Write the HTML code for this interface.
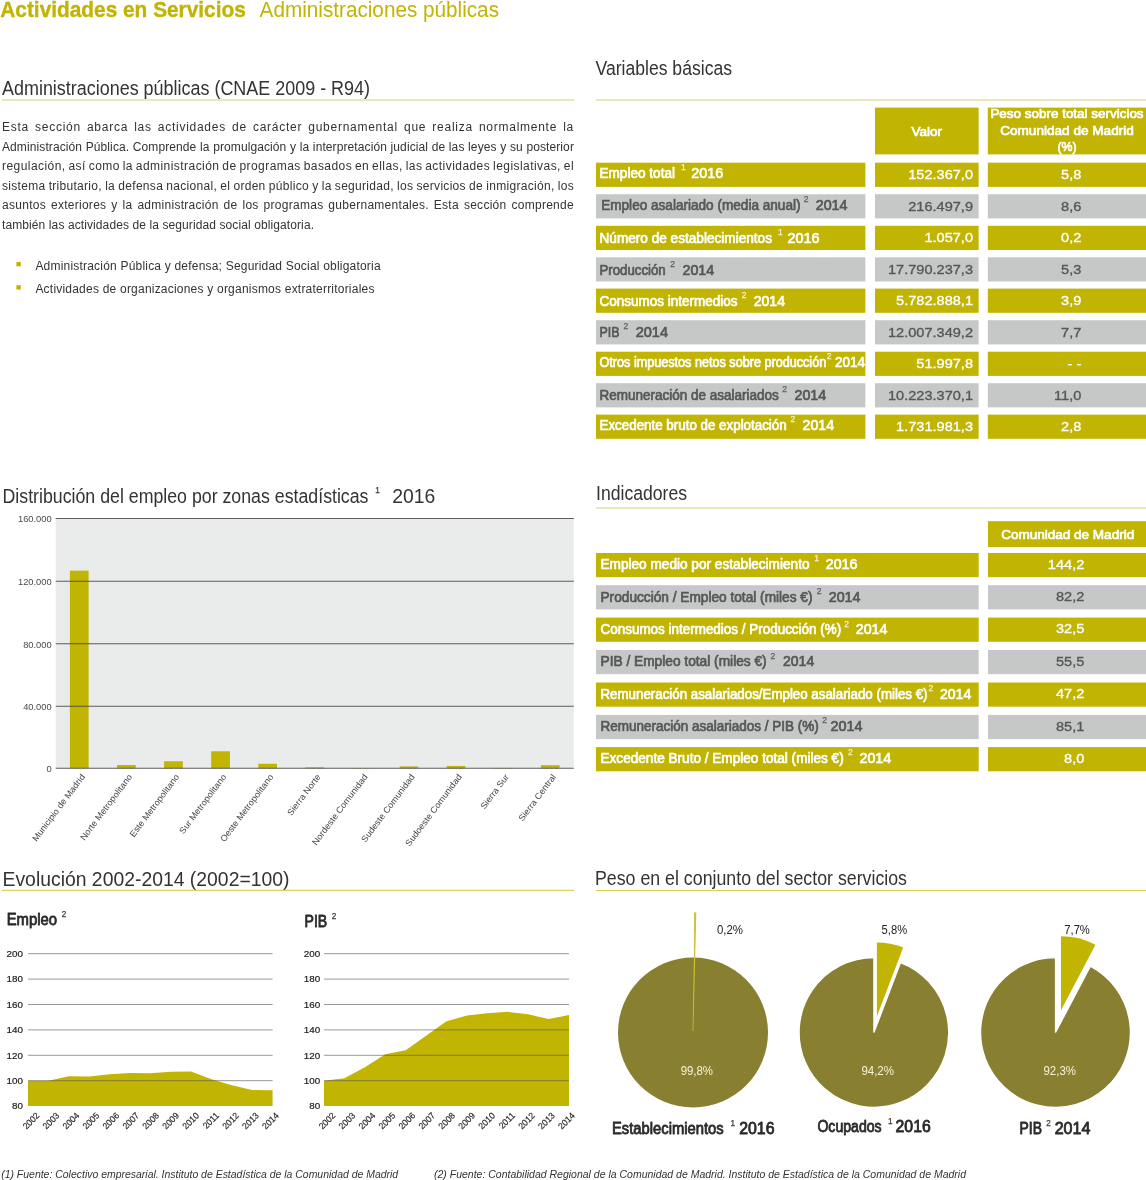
<!DOCTYPE html>
<html lang="es"><head><meta charset="utf-8"><title>Actividades en Servicios - Administraciones públicas</title>
<style>
html,body{margin:0;padding:0;background:#ffffff;}
body{width:1146px;height:1180px;overflow:hidden;}
svg{display:block;}
svg text{font-family:"Liberation Sans",sans-serif;white-space:pre;}
</style></head><body>
<svg width="1146" height="1180" viewBox="0 0 1146 1180">
<text x="0.30" y="16.70" font-size="21.90" fill="#c1b403" font-weight="bold" textLength="245.50" lengthAdjust="spacingAndGlyphs" stroke="#c1b403" stroke-width="0.35">Actividades en Servicios</text>
<text x="259.60" y="16.60" font-size="21.70" fill="#c1b403" textLength="239.40" lengthAdjust="spacingAndGlyphs">Administraciones públicas</text>
<text x="2.00" y="95.00" font-size="19.60" fill="#333333" textLength="368.00" lengthAdjust="spacingAndGlyphs">Administraciones públicas (CNAE 2009 - R94)</text>
<line x1="2.00" y1="100.00" x2="574.00" y2="100.00" stroke="#dfe0a6" stroke-width="1.60"/>
<text x="2" y="130.70" font-size="12.00" fill="#333333" style="letter-spacing:0.750px;word-spacing:1.983px" textLength="572" lengthAdjust="spacing">Esta sección abarca las actividades de carácter gubernamental que realiza normalmente la</text>
<text x="2" y="150.50" font-size="12.00" fill="#333333" style="letter-spacing:0.100px;word-spacing:0.182px" textLength="572" lengthAdjust="spacing">Administración Pública. Comprende la promulgación y la interpretación judicial de las leyes y su posterior</text>
<text x="2" y="170.20" font-size="12.00" fill="#333333" style="letter-spacing:0.450px;word-spacing:-0.903px" textLength="572" lengthAdjust="spacing">regulación, así como la administración de programas basados en ellas, las actividades legislativas, el</text>
<text x="2" y="190.00" font-size="12.00" fill="#333333" style="letter-spacing:0.300px;word-spacing:-0.406px" textLength="572" lengthAdjust="spacing">sistema tributario, la defensa nacional, el orden público y la seguridad, los servicios de inmigración, los</text>
<text x="2" y="209.30" font-size="12.00" fill="#333333" style="letter-spacing:0.280px;word-spacing:1.340px" textLength="572" lengthAdjust="spacing">asuntos exteriores y la administración de los programas gubernamentales. Esta sección comprende</text>
<text x="2.00" y="228.90" font-size="12.00" fill="#333333" textLength="312.00" lengthAdjust="spacing">también las actividades de la seguridad social obligatoria.</text>
<rect x="16.40" y="261.90" width="4.40" height="4.40" fill="#c1b403"/>
<rect x="16.40" y="285.20" width="4.40" height="4.40" fill="#c1b403"/>
<text x="35.40" y="270.20" font-size="12.00" fill="#333333" textLength="345.20" lengthAdjust="spacing">Administración Pública y defensa; Seguridad Social obligatoria</text>
<text x="35.40" y="292.70" font-size="12.00" fill="#333333" textLength="339.00" lengthAdjust="spacing">Actividades de organizaciones y organismos extraterritoriales</text>
<text x="595.50" y="74.50" font-size="19.60" fill="#333333" textLength="136.50" lengthAdjust="spacingAndGlyphs">Variables básicas</text>
<line x1="596.00" y1="100.00" x2="1146.00" y2="100.00" stroke="#dfe0a6" stroke-width="1.60"/>
<rect x="875.00" y="107.60" width="103.60" height="46.80" fill="#c1b403"/>
<rect x="987.80" y="107.60" width="160.00" height="46.80" fill="#c1b403"/>
<text x="911.45" y="136.20" font-size="13.20" fill="#fff" textLength="30.70" lengthAdjust="spacingAndGlyphs" stroke="#fff" stroke-width="0.70" stroke-linejoin="round">Valor</text>
<text x="990.40" y="118.20" font-size="13.00" fill="#fff" textLength="153.20" lengthAdjust="spacingAndGlyphs" stroke="#fff" stroke-width="0.70" stroke-linejoin="round">Peso sobre total servicios</text>
<text x="1000.15" y="135.00" font-size="13.00" fill="#fff" textLength="133.70" lengthAdjust="spacingAndGlyphs" stroke="#fff" stroke-width="0.70" stroke-linejoin="round">Comunidad de Madrid</text>
<text x="1057.40" y="150.60" font-size="13.00" fill="#fff" textLength="19.21" lengthAdjust="spacingAndGlyphs" stroke="#fff" stroke-width="0.70" stroke-linejoin="round">(%)</text>
<rect x="596.00" y="162.70" width="269.40" height="24.20" fill="#c1b403"/>
<rect x="875.00" y="162.70" width="103.60" height="24.20" fill="#c1b403"/>
<rect x="987.80" y="162.70" width="160.00" height="24.20" fill="#c1b403"/>
<text x="599.50" y="177.80" font-size="14.00" fill="#fff" textLength="75.50" lengthAdjust="spacingAndGlyphs" stroke="#fff" stroke-width="0.70" stroke-linejoin="round">Empleo total</text>
<text x="680.90" y="170.20" font-size="8.60" fill="#f4f2cf" stroke="#f4f2cf" stroke-width="0.25">1</text>
<text x="691.20" y="177.80" font-size="14.00" fill="#fff" textLength="32.00" lengthAdjust="spacingAndGlyphs" stroke="#fff" stroke-width="0.70" stroke-linejoin="round">2016</text>
<text x="908.26" y="179.10" font-size="13.60" fill="#fff" textLength="64.74" lengthAdjust="spacingAndGlyphs" stroke="#fff" stroke-width="0.35">152.367,0</text>
<text x="1061.07" y="179.10" font-size="13.60" fill="#fff" textLength="20.23" lengthAdjust="spacingAndGlyphs" stroke="#fff" stroke-width="0.35">5,8</text>
<rect x="596.00" y="194.20" width="269.40" height="24.20" fill="#c6c8c7"/>
<rect x="875.00" y="194.20" width="103.60" height="24.20" fill="#c6c8c7"/>
<rect x="987.80" y="194.20" width="160.00" height="24.20" fill="#c6c8c7"/>
<text x="601.20" y="209.90" font-size="14.00" fill="#555759" textLength="199.30" lengthAdjust="spacingAndGlyphs" stroke="#555759" stroke-width="0.70" stroke-linejoin="round">Empleo asalariado (media anual)</text>
<text x="803.70" y="202.30" font-size="8.60" fill="#5c5e60" stroke="#5c5e60" stroke-width="0.25">2</text>
<text x="815.70" y="209.90" font-size="14.00" fill="#555759" textLength="31.80" lengthAdjust="spacingAndGlyphs" stroke="#555759" stroke-width="0.70" stroke-linejoin="round">2014</text>
<text x="908.26" y="210.60" font-size="13.60" fill="#555759" textLength="64.74" lengthAdjust="spacingAndGlyphs" stroke="#555759" stroke-width="0.35">216.497,9</text>
<text x="1061.07" y="210.60" font-size="13.60" fill="#555759" textLength="20.23" lengthAdjust="spacingAndGlyphs" stroke="#555759" stroke-width="0.35">8,6</text>
<rect x="596.00" y="225.80" width="269.40" height="24.20" fill="#c1b403"/>
<rect x="875.00" y="225.80" width="103.60" height="24.20" fill="#c1b403"/>
<rect x="987.80" y="225.80" width="160.00" height="24.20" fill="#c1b403"/>
<text x="599.50" y="243.00" font-size="14.00" fill="#fff" textLength="172.50" lengthAdjust="spacingAndGlyphs" stroke="#fff" stroke-width="0.70" stroke-linejoin="round">Número de establecimientos</text>
<text x="777.90" y="235.40" font-size="8.60" fill="#f4f2cf" stroke="#f4f2cf" stroke-width="0.25">1</text>
<text x="787.50" y="243.00" font-size="14.00" fill="#fff" textLength="32.00" lengthAdjust="spacingAndGlyphs" stroke="#fff" stroke-width="0.70" stroke-linejoin="round">2016</text>
<text x="924.45" y="242.20" font-size="13.60" fill="#fff" textLength="48.55" lengthAdjust="spacingAndGlyphs" stroke="#fff" stroke-width="0.35">1.057,0</text>
<text x="1061.07" y="242.20" font-size="13.60" fill="#fff" textLength="20.23" lengthAdjust="spacingAndGlyphs" stroke="#fff" stroke-width="0.35">0,2</text>
<rect x="596.00" y="257.30" width="269.40" height="24.20" fill="#c6c8c7"/>
<rect x="875.00" y="257.30" width="103.60" height="24.20" fill="#c6c8c7"/>
<rect x="987.80" y="257.30" width="160.00" height="24.20" fill="#c6c8c7"/>
<text x="599.50" y="275.00" font-size="14.00" fill="#555759" textLength="66.20" lengthAdjust="spacingAndGlyphs" stroke="#555759" stroke-width="0.70" stroke-linejoin="round">Producción</text>
<text x="670.20" y="267.40" font-size="8.60" fill="#5c5e60" stroke="#5c5e60" stroke-width="0.25">2</text>
<text x="682.50" y="275.00" font-size="14.00" fill="#555759" textLength="31.70" lengthAdjust="spacingAndGlyphs" stroke="#555759" stroke-width="0.70" stroke-linejoin="round">2014</text>
<text x="888.03" y="273.70" font-size="13.60" fill="#555759" textLength="84.97" lengthAdjust="spacingAndGlyphs" stroke="#555759" stroke-width="0.35">17.790.237,3</text>
<text x="1061.07" y="273.70" font-size="13.60" fill="#555759" textLength="20.23" lengthAdjust="spacingAndGlyphs" stroke="#555759" stroke-width="0.35">5,3</text>
<rect x="596.00" y="288.60" width="269.40" height="24.20" fill="#c1b403"/>
<rect x="875.00" y="288.60" width="103.60" height="24.20" fill="#c1b403"/>
<rect x="987.80" y="288.60" width="160.00" height="24.20" fill="#c1b403"/>
<text x="599.50" y="306.00" font-size="14.00" fill="#fff" textLength="138.00" lengthAdjust="spacingAndGlyphs" stroke="#fff" stroke-width="0.70" stroke-linejoin="round">Consumos intermedios</text>
<text x="741.70" y="298.40" font-size="8.60" fill="#f4f2cf" stroke="#f4f2cf" stroke-width="0.25">2</text>
<text x="753.70" y="306.00" font-size="14.00" fill="#fff" textLength="31.30" lengthAdjust="spacingAndGlyphs" stroke="#fff" stroke-width="0.70" stroke-linejoin="round">2014</text>
<text x="896.13" y="305.00" font-size="13.60" fill="#fff" textLength="76.87" lengthAdjust="spacingAndGlyphs" stroke="#fff" stroke-width="0.35">5.782.888,1</text>
<text x="1061.07" y="305.00" font-size="13.60" fill="#fff" textLength="20.23" lengthAdjust="spacingAndGlyphs" stroke="#fff" stroke-width="0.35">3,9</text>
<rect x="596.00" y="320.20" width="269.40" height="24.20" fill="#c6c8c7"/>
<rect x="875.00" y="320.20" width="103.60" height="24.20" fill="#c6c8c7"/>
<rect x="987.80" y="320.20" width="160.00" height="24.20" fill="#c6c8c7"/>
<text x="599.50" y="337.00" font-size="14.00" fill="#555759" textLength="20.00" lengthAdjust="spacingAndGlyphs" stroke="#555759" stroke-width="0.70" stroke-linejoin="round">PIB</text>
<text x="623.40" y="329.40" font-size="8.60" fill="#5c5e60" stroke="#5c5e60" stroke-width="0.25">2</text>
<text x="635.70" y="337.00" font-size="14.00" fill="#555759" textLength="32.30" lengthAdjust="spacingAndGlyphs" stroke="#555759" stroke-width="0.70" stroke-linejoin="round">2014</text>
<text x="888.03" y="336.60" font-size="13.60" fill="#555759" textLength="84.97" lengthAdjust="spacingAndGlyphs" stroke="#555759" stroke-width="0.35">12.007.349,2</text>
<text x="1061.07" y="336.60" font-size="13.60" fill="#555759" textLength="20.23" lengthAdjust="spacingAndGlyphs" stroke="#555759" stroke-width="0.35">7,7</text>
<rect x="596.00" y="351.70" width="269.40" height="24.20" fill="#c1b403"/>
<rect x="875.00" y="351.70" width="103.60" height="24.20" fill="#c1b403"/>
<rect x="987.80" y="351.70" width="160.00" height="24.20" fill="#c1b403"/>
<text x="599.50" y="367.00" font-size="14.00" fill="#fff" textLength="226.70" lengthAdjust="spacingAndGlyphs" stroke="#fff" stroke-width="0.70" stroke-linejoin="round">Otros impuestos netos sobre producción</text>
<text x="826.70" y="359.40" font-size="8.60" fill="#f4f2cf" stroke="#f4f2cf" stroke-width="0.25">2</text>
<text x="835.00" y="367.00" font-size="14.00" fill="#fff" textLength="30.00" lengthAdjust="spacingAndGlyphs" stroke="#fff" stroke-width="0.70" stroke-linejoin="round">2014</text>
<text x="916.35" y="368.10" font-size="13.60" fill="#fff" textLength="56.65" lengthAdjust="spacingAndGlyphs" stroke="#fff" stroke-width="0.35">51.997,8</text>
<text x="1067.56" y="368.10" font-size="13.60" fill="#fff" textLength="13.74" lengthAdjust="spacingAndGlyphs" stroke="#fff" stroke-width="0.35">- -</text>
<rect x="596.00" y="383.20" width="269.40" height="24.20" fill="#c6c8c7"/>
<rect x="875.00" y="383.20" width="103.60" height="24.20" fill="#c6c8c7"/>
<rect x="987.80" y="383.20" width="160.00" height="24.20" fill="#c6c8c7"/>
<text x="599.50" y="399.50" font-size="14.00" fill="#555759" textLength="179.20" lengthAdjust="spacingAndGlyphs" stroke="#555759" stroke-width="0.70" stroke-linejoin="round">Remuneración de asalariados</text>
<text x="782.20" y="391.90" font-size="8.60" fill="#5c5e60" stroke="#5c5e60" stroke-width="0.25">2</text>
<text x="794.50" y="399.50" font-size="14.00" fill="#555759" textLength="31.70" lengthAdjust="spacingAndGlyphs" stroke="#555759" stroke-width="0.70" stroke-linejoin="round">2014</text>
<text x="888.03" y="399.60" font-size="13.60" fill="#555759" textLength="84.97" lengthAdjust="spacingAndGlyphs" stroke="#555759" stroke-width="0.35">10.223.370,1</text>
<text x="1054.06" y="399.60" font-size="13.60" fill="#555759" textLength="27.24" lengthAdjust="spacingAndGlyphs" stroke="#555759" stroke-width="0.35">11,0</text>
<rect x="596.00" y="414.60" width="269.40" height="24.20" fill="#c1b403"/>
<rect x="875.00" y="414.60" width="103.60" height="24.20" fill="#c1b403"/>
<rect x="987.80" y="414.60" width="160.00" height="24.20" fill="#c1b403"/>
<text x="599.50" y="429.50" font-size="14.00" fill="#fff" textLength="187.20" lengthAdjust="spacingAndGlyphs" stroke="#fff" stroke-width="0.70" stroke-linejoin="round">Excedente bruto de explotación</text>
<text x="790.40" y="421.90" font-size="8.60" fill="#f4f2cf" stroke="#f4f2cf" stroke-width="0.25">2</text>
<text x="802.50" y="429.50" font-size="14.00" fill="#fff" textLength="31.70" lengthAdjust="spacingAndGlyphs" stroke="#fff" stroke-width="0.70" stroke-linejoin="round">2014</text>
<text x="896.13" y="431.00" font-size="13.60" fill="#fff" textLength="76.87" lengthAdjust="spacingAndGlyphs" stroke="#fff" stroke-width="0.35">1.731.981,3</text>
<text x="1061.07" y="431.00" font-size="13.60" fill="#fff" textLength="20.23" lengthAdjust="spacingAndGlyphs" stroke="#fff" stroke-width="0.35">2,8</text>
<text x="596.00" y="500.00" font-size="19.60" fill="#333333" textLength="91.00" lengthAdjust="spacingAndGlyphs">Indicadores</text>
<line x1="596.00" y1="508.00" x2="1146.00" y2="508.00" stroke="#dfe0a6" stroke-width="1.60"/>
<rect x="988.00" y="521.20" width="160.00" height="25.80" fill="#c1b403"/>
<text x="1001.20" y="538.70" font-size="13.20" fill="#fff" textLength="133.00" lengthAdjust="spacingAndGlyphs" stroke="#fff" stroke-width="0.70" stroke-linejoin="round">Comunidad de Madrid</text>
<rect x="596.00" y="553.00" width="382.70" height="24.20" fill="#c1b403"/>
<rect x="988.00" y="553.00" width="160.00" height="24.20" fill="#c1b403"/>
<text x="600.50" y="568.70" font-size="14.00" fill="#fff" textLength="209.00" lengthAdjust="spacingAndGlyphs" stroke="#fff" stroke-width="0.70" stroke-linejoin="round">Empleo medio por establecimiento</text>
<text x="814.20" y="561.10" font-size="8.60" fill="#f4f2cf" stroke="#f4f2cf" stroke-width="0.25">1</text>
<text x="825.70" y="568.70" font-size="14.00" fill="#fff" textLength="31.80" lengthAdjust="spacingAndGlyphs" stroke="#fff" stroke-width="0.70" stroke-linejoin="round">2016</text>
<text x="1047.88" y="568.80" font-size="13.60" fill="#fff" textLength="36.42" lengthAdjust="spacingAndGlyphs" stroke="#fff" stroke-width="0.35">144,2</text>
<rect x="596.00" y="585.20" width="382.70" height="24.20" fill="#c6c8c7"/>
<rect x="988.00" y="585.20" width="160.00" height="24.20" fill="#c6c8c7"/>
<text x="600.50" y="602.00" font-size="14.00" fill="#555759" textLength="212.00" lengthAdjust="spacingAndGlyphs" stroke="#555759" stroke-width="0.70" stroke-linejoin="round">Producción / Empleo total (miles €)</text>
<text x="816.70" y="594.40" font-size="8.60" fill="#5c5e60" stroke="#5c5e60" stroke-width="0.25">2</text>
<text x="828.70" y="602.00" font-size="14.00" fill="#555759" textLength="31.80" lengthAdjust="spacingAndGlyphs" stroke="#555759" stroke-width="0.70" stroke-linejoin="round">2014</text>
<text x="1055.98" y="601.00" font-size="13.60" fill="#555759" textLength="28.32" lengthAdjust="spacingAndGlyphs" stroke="#555759" stroke-width="0.35">82,2</text>
<rect x="596.00" y="617.60" width="382.70" height="24.20" fill="#c1b403"/>
<rect x="988.00" y="617.60" width="160.00" height="24.20" fill="#c1b403"/>
<text x="600.50" y="634.20" font-size="14.00" fill="#fff" textLength="240.70" lengthAdjust="spacingAndGlyphs" stroke="#fff" stroke-width="0.70" stroke-linejoin="round">Consumos intermedios / Producción (%)</text>
<text x="844.20" y="626.60" font-size="8.60" fill="#f4f2cf" stroke="#f4f2cf" stroke-width="0.25">2</text>
<text x="855.70" y="634.20" font-size="14.00" fill="#fff" textLength="31.80" lengthAdjust="spacingAndGlyphs" stroke="#fff" stroke-width="0.70" stroke-linejoin="round">2014</text>
<text x="1055.98" y="633.40" font-size="13.60" fill="#fff" textLength="28.32" lengthAdjust="spacingAndGlyphs" stroke="#fff" stroke-width="0.35">32,5</text>
<rect x="596.00" y="650.00" width="382.70" height="24.20" fill="#c6c8c7"/>
<rect x="988.00" y="650.00" width="160.00" height="24.20" fill="#c6c8c7"/>
<text x="600.50" y="666.20" font-size="14.00" fill="#555759" textLength="166.20" lengthAdjust="spacingAndGlyphs" stroke="#555759" stroke-width="0.70" stroke-linejoin="round">PIB / Empleo total (miles €)</text>
<text x="770.40" y="658.60" font-size="8.60" fill="#5c5e60" stroke="#5c5e60" stroke-width="0.25">2</text>
<text x="783.00" y="666.20" font-size="14.00" fill="#555759" textLength="31.20" lengthAdjust="spacingAndGlyphs" stroke="#555759" stroke-width="0.70" stroke-linejoin="round">2014</text>
<text x="1055.98" y="665.80" font-size="13.60" fill="#555759" textLength="28.32" lengthAdjust="spacingAndGlyphs" stroke="#555759" stroke-width="0.35">55,5</text>
<rect x="596.00" y="682.50" width="382.70" height="24.20" fill="#c1b403"/>
<rect x="988.00" y="682.50" width="160.00" height="24.20" fill="#c1b403"/>
<text x="600.50" y="698.70" font-size="14.00" fill="#fff" textLength="327.00" lengthAdjust="spacingAndGlyphs" stroke="#fff" stroke-width="0.70" stroke-linejoin="round">Remuneración asalariados/Empleo asalariado (miles €)</text>
<text x="928.40" y="691.10" font-size="8.60" fill="#f4f2cf" stroke="#f4f2cf" stroke-width="0.25">2</text>
<text x="940.00" y="698.70" font-size="14.00" fill="#fff" textLength="31.20" lengthAdjust="spacingAndGlyphs" stroke="#fff" stroke-width="0.70" stroke-linejoin="round">2014</text>
<text x="1055.98" y="698.30" font-size="13.60" fill="#fff" textLength="28.32" lengthAdjust="spacingAndGlyphs" stroke="#fff" stroke-width="0.35">47,2</text>
<rect x="596.00" y="714.90" width="382.70" height="24.20" fill="#c6c8c7"/>
<rect x="988.00" y="714.90" width="160.00" height="24.20" fill="#c6c8c7"/>
<text x="600.50" y="730.70" font-size="14.00" fill="#555759" textLength="218.20" lengthAdjust="spacingAndGlyphs" stroke="#555759" stroke-width="0.70" stroke-linejoin="round">Remuneración asalariados / PIB (%)</text>
<text x="822.20" y="723.10" font-size="8.60" fill="#5c5e60" stroke="#5c5e60" stroke-width="0.25">2</text>
<text x="830.50" y="730.70" font-size="14.00" fill="#555759" textLength="32.00" lengthAdjust="spacingAndGlyphs" stroke="#555759" stroke-width="0.70" stroke-linejoin="round">2014</text>
<text x="1055.98" y="730.70" font-size="13.60" fill="#555759" textLength="28.32" lengthAdjust="spacingAndGlyphs" stroke="#555759" stroke-width="0.35">85,1</text>
<rect x="596.00" y="747.10" width="382.70" height="24.20" fill="#c1b403"/>
<rect x="988.00" y="747.10" width="160.00" height="24.20" fill="#c1b403"/>
<text x="600.50" y="763.00" font-size="14.00" fill="#fff" textLength="243.20" lengthAdjust="spacingAndGlyphs" stroke="#fff" stroke-width="0.70" stroke-linejoin="round">Excedente Bruto / Empleo total (miles €)</text>
<text x="847.90" y="755.40" font-size="8.60" fill="#f4f2cf" stroke="#f4f2cf" stroke-width="0.25">2</text>
<text x="859.50" y="763.00" font-size="14.00" fill="#fff" textLength="31.70" lengthAdjust="spacingAndGlyphs" stroke="#fff" stroke-width="0.70" stroke-linejoin="round">2014</text>
<text x="1064.07" y="762.90" font-size="13.60" fill="#fff" textLength="20.23" lengthAdjust="spacingAndGlyphs" stroke="#fff" stroke-width="0.35">8,0</text>
<text x="2.50" y="502.50" font-size="19.60" fill="#333333" textLength="366.00" lengthAdjust="spacingAndGlyphs">Distribución del empleo por zonas estadísticas</text>
<text x="375.20" y="493.10" font-size="8.20" fill="#3a3a3a" stroke="#3a3a3a" stroke-width="0.25">1</text>
<text x="392.20" y="502.50" font-size="19.60" fill="#333333" textLength="43.00" lengthAdjust="spacingAndGlyphs">2016</text>
<rect x="55.70" y="518.50" width="518.10" height="249.80" fill="#eaebeb"/>
<rect x="69.90" y="570.65" width="18.70" height="197.65" fill="#c1b403"/>
<rect x="117.00" y="765.02" width="18.70" height="3.28" fill="#c1b403"/>
<rect x="164.10" y="761.27" width="18.70" height="7.03" fill="#c1b403"/>
<rect x="211.20" y="751.28" width="18.70" height="17.02" fill="#c1b403"/>
<rect x="258.30" y="763.77" width="18.70" height="4.53" fill="#c1b403"/>
<rect x="305.40" y="767.36" width="18.70" height="0.94" fill="#c1b403"/>
<rect x="352.50" y="768.11" width="18.70" height="0.19" fill="#c1b403"/>
<rect x="399.60" y="766.43" width="18.70" height="1.87" fill="#c1b403"/>
<rect x="446.70" y="765.96" width="18.70" height="2.34" fill="#c1b403"/>
<rect x="493.80" y="767.91" width="18.70" height="0.39" fill="#c1b403"/>
<rect x="540.90" y="765.18" width="18.70" height="3.12" fill="#c1b403"/>
<line x1="55.70" y1="518.50" x2="573.80" y2="518.50" stroke="#444" stroke-width="1.10" opacity="0.85"/>
<text x="17.98" y="522.40" font-size="8.80" fill="#4a4a4a" textLength="33.72" lengthAdjust="spacingAndGlyphs">160.000</text>
<line x1="55.70" y1="581.20" x2="573.80" y2="581.20" stroke="#444" stroke-width="1.10" opacity="0.85"/>
<text x="17.98" y="585.10" font-size="8.80" fill="#4a4a4a" textLength="33.72" lengthAdjust="spacingAndGlyphs">120.000</text>
<line x1="55.70" y1="643.70" x2="573.80" y2="643.70" stroke="#444" stroke-width="1.10" opacity="0.85"/>
<text x="23.17" y="647.60" font-size="8.80" fill="#4a4a4a" textLength="28.53" lengthAdjust="spacingAndGlyphs">80.000</text>
<line x1="55.70" y1="706.20" x2="573.80" y2="706.20" stroke="#444" stroke-width="1.10" opacity="0.85"/>
<text x="23.17" y="710.10" font-size="8.80" fill="#4a4a4a" textLength="28.53" lengthAdjust="spacingAndGlyphs">40.000</text>
<line x1="55.70" y1="768.30" x2="573.80" y2="768.30" stroke="#444" stroke-width="1.10" opacity="0.85"/>
<text x="46.51" y="772.20" font-size="8.80" fill="#4a4a4a" textLength="5.19" lengthAdjust="spacingAndGlyphs">0</text>
<g transform="translate(85.45,777.00) rotate(-53)">
<text x="-81.51" y="0.00" font-size="8.80" fill="#444" textLength="81.51" lengthAdjust="spacingAndGlyphs">Municipio de Madrid</text>
</g>
<g transform="translate(132.55,777.00) rotate(-53)">
<text x="-79.99" y="0.00" font-size="8.80" fill="#444" textLength="79.99" lengthAdjust="spacingAndGlyphs">Norte Metropolitano</text>
</g>
<g transform="translate(179.65,777.00) rotate(-53)">
<text x="-75.94" y="0.00" font-size="8.80" fill="#444" textLength="75.94" lengthAdjust="spacingAndGlyphs">Este Metropolitano</text>
</g>
<g transform="translate(226.75,777.00) rotate(-53)">
<text x="-71.89" y="0.00" font-size="8.80" fill="#444" textLength="71.89" lengthAdjust="spacingAndGlyphs">Sur Metropolitano</text>
</g>
<g transform="translate(273.85,777.00) rotate(-53)">
<text x="-82.02" y="0.00" font-size="8.80" fill="#444" textLength="82.02" lengthAdjust="spacingAndGlyphs">Oeste Metropolitano</text>
</g>
<g transform="translate(320.95,777.00) rotate(-53)">
<text x="-49.10" y="0.00" font-size="8.80" fill="#444" textLength="49.10" lengthAdjust="spacingAndGlyphs">Sierra Norte</text>
</g>
<g transform="translate(368.05,777.00) rotate(-53)">
<text x="-86.07" y="0.00" font-size="8.80" fill="#444" textLength="86.07" lengthAdjust="spacingAndGlyphs">Nordeste Comunidad</text>
</g>
<g transform="translate(415.15,777.00) rotate(-53)">
<text x="-82.53" y="0.00" font-size="8.80" fill="#444" textLength="82.53" lengthAdjust="spacingAndGlyphs">Sudeste Comunidad</text>
</g>
<g transform="translate(462.25,777.00) rotate(-53)">
<text x="-87.60" y="0.00" font-size="8.80" fill="#444" textLength="87.60" lengthAdjust="spacingAndGlyphs">Sudoeste Comunidad</text>
</g>
<g transform="translate(509.35,777.00) rotate(-53)">
<text x="-41.00" y="0.00" font-size="8.80" fill="#444" textLength="41.00" lengthAdjust="spacingAndGlyphs">Sierra Sur</text>
</g>
<g transform="translate(556.45,777.00) rotate(-53)">
<text x="-56.19" y="0.00" font-size="8.80" fill="#444" textLength="56.19" lengthAdjust="spacingAndGlyphs">Sierra Central</text>
</g>
<text x="2.50" y="886.20" font-size="19.60" fill="#333333" textLength="287.00" lengthAdjust="spacingAndGlyphs">Evolución 2002-2014 (2002=100)</text>
<line x1="2.00" y1="890.30" x2="574.00" y2="890.30" stroke="#ddd35a" stroke-width="1.20"/>
<text x="6.70" y="924.60" font-size="15.80" fill="#2b2b2b" textLength="50.30" lengthAdjust="spacingAndGlyphs" stroke="#2b2b2b" stroke-width="0.80" stroke-linejoin="round">Empleo</text>
<text x="61.70" y="917.20" font-size="8.20" fill="#3a3a3a" stroke="#3a3a3a" stroke-width="0.25">2</text>
<polygon points="28.00,1106.10 28.00,1080.70 48.38,1080.70 68.77,1076.13 89.15,1076.38 109.53,1074.35 129.92,1073.08 150.30,1073.33 170.68,1071.81 191.07,1071.56 211.45,1079.18 231.83,1085.14 252.22,1089.97 272.60,1090.22 272.60,1106.10" fill="#c1b403"/>
<line x1="28.00" y1="953.70" x2="272.60" y2="953.70" stroke="#555" stroke-width="1.00" opacity="0.6"/>
<line x1="28.00" y1="979.10" x2="272.60" y2="979.10" stroke="#555" stroke-width="1.00" opacity="0.6"/>
<line x1="28.00" y1="1004.50" x2="272.60" y2="1004.50" stroke="#555" stroke-width="1.00" opacity="0.6"/>
<line x1="28.00" y1="1029.90" x2="272.60" y2="1029.90" stroke="#555" stroke-width="1.00" opacity="0.6"/>
<line x1="28.00" y1="1055.30" x2="272.60" y2="1055.30" stroke="#555" stroke-width="1.00" opacity="0.6"/>
<line x1="28.00" y1="1080.70" x2="272.60" y2="1080.70" stroke="#555" stroke-width="1.00" opacity="0.6"/>
<text x="6.48" y="957.00" font-size="9.20" fill="#222" textLength="16.42" lengthAdjust="spacingAndGlyphs" stroke="#222" stroke-width="0.2">200</text>
<text x="6.48" y="982.40" font-size="9.20" fill="#222" textLength="16.42" lengthAdjust="spacingAndGlyphs" stroke="#222" stroke-width="0.2">180</text>
<text x="6.48" y="1007.80" font-size="9.20" fill="#222" textLength="16.42" lengthAdjust="spacingAndGlyphs" stroke="#222" stroke-width="0.2">160</text>
<text x="6.48" y="1033.20" font-size="9.20" fill="#222" textLength="16.42" lengthAdjust="spacingAndGlyphs" stroke="#222" stroke-width="0.2">140</text>
<text x="6.48" y="1058.60" font-size="9.20" fill="#222" textLength="16.42" lengthAdjust="spacingAndGlyphs" stroke="#222" stroke-width="0.2">120</text>
<text x="6.48" y="1084.00" font-size="9.20" fill="#222" textLength="16.42" lengthAdjust="spacingAndGlyphs" stroke="#222" stroke-width="0.2">100</text>
<text x="11.95" y="1108.80" font-size="9.20" fill="#222" textLength="10.95" lengthAdjust="spacingAndGlyphs" stroke="#222" stroke-width="0.2">80</text>
<g transform="translate(40.00,1116.20) rotate(-45)">
<text x="-19.21" y="0.00" font-size="8.90" fill="#222" textLength="19.21" lengthAdjust="spacingAndGlyphs" stroke="#222" stroke-width="0.15">2002</text>
</g>
<g transform="translate(59.95,1116.20) rotate(-45)">
<text x="-19.21" y="0.00" font-size="8.90" fill="#222" textLength="19.21" lengthAdjust="spacingAndGlyphs" stroke="#222" stroke-width="0.15">2003</text>
</g>
<g transform="translate(79.90,1116.20) rotate(-45)">
<text x="-19.21" y="0.00" font-size="8.90" fill="#222" textLength="19.21" lengthAdjust="spacingAndGlyphs" stroke="#222" stroke-width="0.15">2004</text>
</g>
<g transform="translate(99.85,1116.20) rotate(-45)">
<text x="-19.21" y="0.00" font-size="8.90" fill="#222" textLength="19.21" lengthAdjust="spacingAndGlyphs" stroke="#222" stroke-width="0.15">2005</text>
</g>
<g transform="translate(119.80,1116.20) rotate(-45)">
<text x="-19.21" y="0.00" font-size="8.90" fill="#222" textLength="19.21" lengthAdjust="spacingAndGlyphs" stroke="#222" stroke-width="0.15">2006</text>
</g>
<g transform="translate(139.75,1116.20) rotate(-45)">
<text x="-19.21" y="0.00" font-size="8.90" fill="#222" textLength="19.21" lengthAdjust="spacingAndGlyphs" stroke="#222" stroke-width="0.15">2007</text>
</g>
<g transform="translate(159.70,1116.20) rotate(-45)">
<text x="-19.21" y="0.00" font-size="8.90" fill="#222" textLength="19.21" lengthAdjust="spacingAndGlyphs" stroke="#222" stroke-width="0.15">2008</text>
</g>
<g transform="translate(179.65,1116.20) rotate(-45)">
<text x="-19.21" y="0.00" font-size="8.90" fill="#222" textLength="19.21" lengthAdjust="spacingAndGlyphs" stroke="#222" stroke-width="0.15">2009</text>
</g>
<g transform="translate(199.60,1116.20) rotate(-45)">
<text x="-19.21" y="0.00" font-size="8.90" fill="#222" textLength="19.21" lengthAdjust="spacingAndGlyphs" stroke="#222" stroke-width="0.15">2010</text>
</g>
<g transform="translate(219.55,1116.20) rotate(-45)">
<text x="-18.56" y="0.00" font-size="8.90" fill="#222" textLength="18.56" lengthAdjust="spacingAndGlyphs" stroke="#222" stroke-width="0.15">2011</text>
</g>
<g transform="translate(239.50,1116.20) rotate(-45)">
<text x="-19.21" y="0.00" font-size="8.90" fill="#222" textLength="19.21" lengthAdjust="spacingAndGlyphs" stroke="#222" stroke-width="0.15">2012</text>
</g>
<g transform="translate(259.45,1116.20) rotate(-45)">
<text x="-19.21" y="0.00" font-size="8.90" fill="#222" textLength="19.21" lengthAdjust="spacingAndGlyphs" stroke="#222" stroke-width="0.15">2013</text>
</g>
<g transform="translate(279.40,1116.20) rotate(-45)">
<text x="-19.21" y="0.00" font-size="8.90" fill="#222" textLength="19.21" lengthAdjust="spacingAndGlyphs" stroke="#222" stroke-width="0.15">2014</text>
</g>
<text x="304.50" y="926.70" font-size="15.80" fill="#2b2b2b" textLength="22.70" lengthAdjust="spacingAndGlyphs" stroke="#2b2b2b" stroke-width="0.80" stroke-linejoin="round">PIB</text>
<text x="331.70" y="919.40" font-size="8.20" fill="#3a3a3a" stroke="#3a3a3a" stroke-width="0.25">2</text>
<polygon points="324.00,1106.10 324.00,1080.70 344.42,1078.16 364.83,1067.24 385.25,1054.28 405.67,1050.22 426.08,1035.74 446.50,1021.26 466.92,1015.55 487.33,1013.14 507.75,1011.87 528.17,1014.28 548.58,1019.11 569.00,1015.04 569.00,1106.10" fill="#c1b403"/>
<line x1="324.00" y1="953.70" x2="569.00" y2="953.70" stroke="#555" stroke-width="1.00" opacity="0.6"/>
<line x1="324.00" y1="979.10" x2="569.00" y2="979.10" stroke="#555" stroke-width="1.00" opacity="0.6"/>
<line x1="324.00" y1="1004.50" x2="569.00" y2="1004.50" stroke="#555" stroke-width="1.00" opacity="0.6"/>
<line x1="324.00" y1="1029.90" x2="569.00" y2="1029.90" stroke="#555" stroke-width="1.00" opacity="0.6"/>
<line x1="324.00" y1="1055.30" x2="569.00" y2="1055.30" stroke="#555" stroke-width="1.00" opacity="0.6"/>
<line x1="324.00" y1="1080.70" x2="569.00" y2="1080.70" stroke="#555" stroke-width="1.00" opacity="0.6"/>
<text x="303.78" y="957.00" font-size="9.20" fill="#222" textLength="16.42" lengthAdjust="spacingAndGlyphs" stroke="#222" stroke-width="0.2">200</text>
<text x="303.78" y="982.40" font-size="9.20" fill="#222" textLength="16.42" lengthAdjust="spacingAndGlyphs" stroke="#222" stroke-width="0.2">180</text>
<text x="303.78" y="1007.80" font-size="9.20" fill="#222" textLength="16.42" lengthAdjust="spacingAndGlyphs" stroke="#222" stroke-width="0.2">160</text>
<text x="303.78" y="1033.20" font-size="9.20" fill="#222" textLength="16.42" lengthAdjust="spacingAndGlyphs" stroke="#222" stroke-width="0.2">140</text>
<text x="303.78" y="1058.60" font-size="9.20" fill="#222" textLength="16.42" lengthAdjust="spacingAndGlyphs" stroke="#222" stroke-width="0.2">120</text>
<text x="303.78" y="1084.00" font-size="9.20" fill="#222" textLength="16.42" lengthAdjust="spacingAndGlyphs" stroke="#222" stroke-width="0.2">100</text>
<text x="309.25" y="1108.80" font-size="9.20" fill="#222" textLength="10.95" lengthAdjust="spacingAndGlyphs" stroke="#222" stroke-width="0.2">80</text>
<g transform="translate(336.00,1116.20) rotate(-45)">
<text x="-19.21" y="0.00" font-size="8.90" fill="#222" textLength="19.21" lengthAdjust="spacingAndGlyphs" stroke="#222" stroke-width="0.15">2002</text>
</g>
<g transform="translate(355.95,1116.20) rotate(-45)">
<text x="-19.21" y="0.00" font-size="8.90" fill="#222" textLength="19.21" lengthAdjust="spacingAndGlyphs" stroke="#222" stroke-width="0.15">2003</text>
</g>
<g transform="translate(375.90,1116.20) rotate(-45)">
<text x="-19.21" y="0.00" font-size="8.90" fill="#222" textLength="19.21" lengthAdjust="spacingAndGlyphs" stroke="#222" stroke-width="0.15">2004</text>
</g>
<g transform="translate(395.85,1116.20) rotate(-45)">
<text x="-19.21" y="0.00" font-size="8.90" fill="#222" textLength="19.21" lengthAdjust="spacingAndGlyphs" stroke="#222" stroke-width="0.15">2005</text>
</g>
<g transform="translate(415.80,1116.20) rotate(-45)">
<text x="-19.21" y="0.00" font-size="8.90" fill="#222" textLength="19.21" lengthAdjust="spacingAndGlyphs" stroke="#222" stroke-width="0.15">2006</text>
</g>
<g transform="translate(435.75,1116.20) rotate(-45)">
<text x="-19.21" y="0.00" font-size="8.90" fill="#222" textLength="19.21" lengthAdjust="spacingAndGlyphs" stroke="#222" stroke-width="0.15">2007</text>
</g>
<g transform="translate(455.70,1116.20) rotate(-45)">
<text x="-19.21" y="0.00" font-size="8.90" fill="#222" textLength="19.21" lengthAdjust="spacingAndGlyphs" stroke="#222" stroke-width="0.15">2008</text>
</g>
<g transform="translate(475.65,1116.20) rotate(-45)">
<text x="-19.21" y="0.00" font-size="8.90" fill="#222" textLength="19.21" lengthAdjust="spacingAndGlyphs" stroke="#222" stroke-width="0.15">2009</text>
</g>
<g transform="translate(495.60,1116.20) rotate(-45)">
<text x="-19.21" y="0.00" font-size="8.90" fill="#222" textLength="19.21" lengthAdjust="spacingAndGlyphs" stroke="#222" stroke-width="0.15">2010</text>
</g>
<g transform="translate(515.55,1116.20) rotate(-45)">
<text x="-18.56" y="0.00" font-size="8.90" fill="#222" textLength="18.56" lengthAdjust="spacingAndGlyphs" stroke="#222" stroke-width="0.15">2011</text>
</g>
<g transform="translate(535.50,1116.20) rotate(-45)">
<text x="-19.21" y="0.00" font-size="8.90" fill="#222" textLength="19.21" lengthAdjust="spacingAndGlyphs" stroke="#222" stroke-width="0.15">2012</text>
</g>
<g transform="translate(555.45,1116.20) rotate(-45)">
<text x="-19.21" y="0.00" font-size="8.90" fill="#222" textLength="19.21" lengthAdjust="spacingAndGlyphs" stroke="#222" stroke-width="0.15">2013</text>
</g>
<g transform="translate(575.40,1116.20) rotate(-45)">
<text x="-19.21" y="0.00" font-size="8.90" fill="#222" textLength="19.21" lengthAdjust="spacingAndGlyphs" stroke="#222" stroke-width="0.15">2014</text>
</g>
<text x="595.00" y="885.00" font-size="19.60" fill="#333333" textLength="312.00" lengthAdjust="spacingAndGlyphs">Peso en el conjunto del sector servicios</text>
<line x1="596.00" y1="890.50" x2="1146.00" y2="890.50" stroke="#d9cf4e" stroke-width="1.20"/>
<circle cx="693" cy="1032.5" r="75" fill="#888030"/>
<polygon points="694.1,912.3 696.3,912.6 695.2,958 693.3,1031 692.6,1031 693.9,958" fill="#cdc235"/>
<path d="M873.90,1032.50 L900.56,962.61 A74.80,74.80 0 1 1 873.90,957.70 Z" fill="#888030" stroke="#fff" stroke-width="1.3" stroke-linejoin="miter"/>
<path d="M876.85,1016.47 L876.85,942.57 A73.90,73.90 0 0 1 903.19,947.42 Z" fill="#c1b403"/>
<path d="M1055.50,1032.50 L1090.34,966.20 A74.90,74.90 0 1 1 1055.50,957.60 Z" fill="#888030" stroke="#fff" stroke-width="1.3" stroke-linejoin="miter"/>
<path d="M1061.01,1010.17 L1061.01,936.17 A74.00,74.00 0 0 1 1095.43,944.66 Z" fill="#c1b403"/>
<text x="717.00" y="933.70" font-size="12.20" fill="#222" textLength="26.00" lengthAdjust="spacingAndGlyphs">0,2%</text>
<text x="881.60" y="933.50" font-size="12.20" fill="#222" textLength="25.50" lengthAdjust="spacingAndGlyphs">5,8%</text>
<text x="1064.30" y="933.50" font-size="12.20" fill="#222" textLength="25.50" lengthAdjust="spacingAndGlyphs">7,7%</text>
<text x="680.70" y="1075.00" font-size="12.20" fill="#f4f2d8" textLength="32.30" lengthAdjust="spacingAndGlyphs">99,8%</text>
<text x="861.40" y="1075.00" font-size="12.20" fill="#f4f2d8" textLength="32.60" lengthAdjust="spacingAndGlyphs">94,2%</text>
<text x="1043.50" y="1075.00" font-size="12.20" fill="#f4f2d8" textLength="32.50" lengthAdjust="spacingAndGlyphs">92,3%</text>
<text x="612.00" y="1133.70" font-size="15.60" fill="#2b2b2b" textLength="111.70" lengthAdjust="spacingAndGlyphs" stroke="#2b2b2b" stroke-width="0.80" stroke-linejoin="round">Establecimientos</text>
<text x="730.60" y="1125.70" font-size="8.20" fill="#3a3a3a" stroke="#3a3a3a" stroke-width="0.25">1</text>
<text x="739.20" y="1133.70" font-size="15.60" fill="#2b2b2b" textLength="35.30" lengthAdjust="spacingAndGlyphs" stroke="#2b2b2b" stroke-width="0.80" stroke-linejoin="round">2016</text>
<text x="817.40" y="1131.50" font-size="15.60" fill="#2b2b2b" textLength="64.20" lengthAdjust="spacingAndGlyphs" stroke="#2b2b2b" stroke-width="0.80" stroke-linejoin="round">Ocupados</text>
<text x="888.00" y="1123.50" font-size="8.20" fill="#3a3a3a" stroke="#3a3a3a" stroke-width="0.25">1</text>
<text x="895.60" y="1131.50" font-size="15.60" fill="#2b2b2b" textLength="35.10" lengthAdjust="spacingAndGlyphs" stroke="#2b2b2b" stroke-width="0.80" stroke-linejoin="round">2016</text>
<text x="1019.50" y="1133.80" font-size="15.60" fill="#2b2b2b" textLength="22.40" lengthAdjust="spacingAndGlyphs" stroke="#2b2b2b" stroke-width="0.80" stroke-linejoin="round">PIB</text>
<text x="1046.30" y="1125.80" font-size="8.20" fill="#3a3a3a" stroke="#3a3a3a" stroke-width="0.25">2</text>
<text x="1054.70" y="1133.80" font-size="15.60" fill="#2b2b2b" textLength="35.70" lengthAdjust="spacingAndGlyphs" stroke="#2b2b2b" stroke-width="0.80" stroke-linejoin="round">2014</text>
<text x="1.20" y="1177.50" font-size="11.80" fill="#333" font-style="italic" textLength="397.00" lengthAdjust="spacingAndGlyphs">(1) Fuente: Colectivo empresarial. Instituto de Estadística de la Comunidad de Madrid</text>
<text x="434.00" y="1177.50" font-size="11.80" fill="#333" font-style="italic" textLength="532.00" lengthAdjust="spacingAndGlyphs">(2) Fuente: Contabilidad Regional de la Comunidad de Madrid. Instituto de Estadística de la Comunidad de Madrid</text>
</svg>
</body></html>
